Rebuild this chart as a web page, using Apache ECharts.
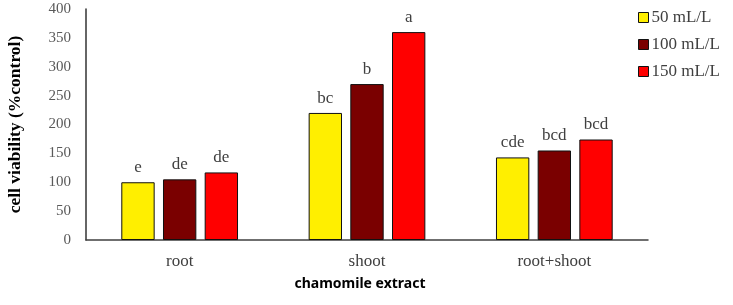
<!DOCTYPE html>
<html><head><meta charset="utf-8">
<script src="https://cdn.jsdelivr.net/npm/echarts@6/dist/echarts.min.js"></script>
<style>html,body{margin:0;padding:0;background:#fff}#c{width:733px;height:305px}</style>
</head><body><div id="c"></div>
<script>
var categories = ['root', 'shoot', 'root+shoot'];
var seriesNames = ['50 mL/L', '100 mL/L', '150 mL/L'];
var values50 = [100, 220, 143];
var values100 = [105, 270, 155];
var values150 = [117, 360, 174];
var letters50 = ['e', 'bc', 'cde'];
var letters100 = ['de', 'b', 'bcd'];
var letters150 = ['de', 'a', 'bcd'];
var colors = ['#FFEF00', '#7A0000', '#FF0000'];
var yTicks = { min: 0, max: 400, interval: 50 };

var serif = '"Liberation Serif", "Times New Roman", serif';
function mk(i, vals, letters) {
  return {
    name: seriesNames[i], type: 'bar', data: vals,
    barGap: '25%', barCategoryGap: '37.7%',
    itemStyle: { color: colors[i], borderColor: '#111', borderWidth: 1 },
    label: { show: true, position: 'top', distance: 6, fontFamily: serif, fontSize: 17, color: '#404040',
      formatter: function (p) { return letters[p.dataIndex]; } }
  };
}
var chart = echarts.init(document.getElementById('c'));
chart.setOption({
  animation: false,
  grid: { left: 86, right: 85, top: 9, bottom: 65, containLabel: false, outerBoundsMode: 'none' },
  legend: {
    orient: 'vertical', left: 633, top: 4, itemWidth: 10, itemHeight: 10, itemGap: 10,
    icon: 'rect',
    textStyle: { fontFamily: serif, fontSize: 17, color: '#404040', padding: [0, 0, 0, -2] },
    itemStyle: { borderColor: '#111', borderWidth: 1 }
  },
  xAxis: {
    type: 'category', data: categories,
    axisLine: { lineStyle: { color: '#404040', width: 1.5 } },
    axisTick: { show: false },
    axisLabel: { fontFamily: serif, fontSize: 17, color: '#404040', margin: 13 },
    name: 'chamomile extract', nameLocation: 'middle', nameGap: 37,
    nameTextStyle: { fontFamily: '"Noto Sans", sans-serif', fontWeight: 'bold', fontSize: 14, color: '#000', padding: [0, 14, 0, 0] }
  },
  yAxis: {
    type: 'value', min: yTicks.min, max: yTicks.max, interval: yTicks.interval,
    axisLine: { show: true, lineStyle: { color: '#333', width: 1.5 } },
    axisTick: { show: false },
    splitLine: { show: false },
    axisLabel: { fontFamily: serif, fontSize: 15, color: '#595959', margin: 15 },
    name: 'cell viability (%control)', nameLocation: 'middle', nameGap: 62,
    nameTextStyle: { fontFamily: serif, fontWeight: 'bold', fontSize: 17.5, color: '#000' }
  },
  series: [mk(0, values50, letters50), mk(1, values100, letters100), mk(2, values150, letters150)]
});
</script></body></html>
